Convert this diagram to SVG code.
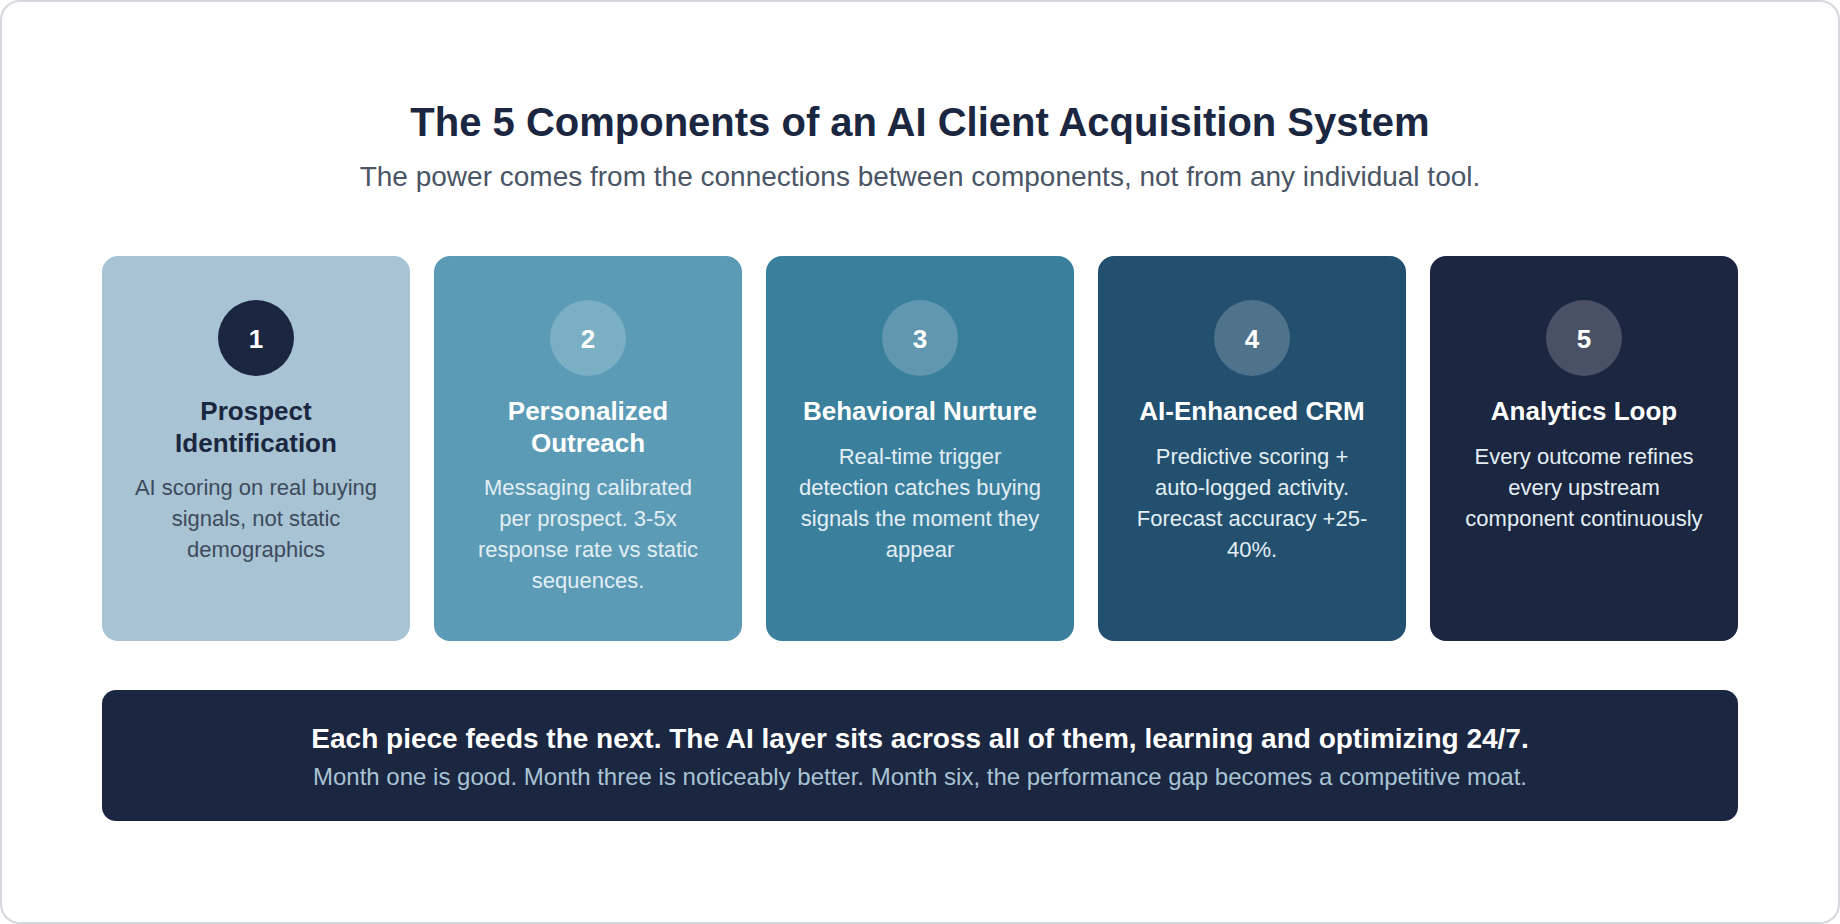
<svg xmlns="http://www.w3.org/2000/svg" width="1840" height="924" viewBox="0 0 1840 924">
<style>
text{font-family:"Liberation Sans",Arial,sans-serif;text-anchor:middle}
.t{font-size:40px;font-weight:bold;fill:#1b2640}
.st{font-size:28px;fill:#4a5566}
.num{font-size:26px;font-weight:bold;fill:#fff}
.ct{font-size:26px;font-weight:bold;fill:#fff}
.cd{font-size:22px;fill:#e3eef4}
.dk .ct{fill:#1b2640}
.dk .cd{fill:#3d4a5c}
.b1{font-size:28px;font-weight:bold;fill:#fff}
.b2{font-size:24px;fill:#a8c4d4}
.c{fill:#fff;fill-opacity:.2}
</style>
<rect x="1" y="1" width="1838" height="922" rx="19" fill="#fff" stroke="#d5d8de" stroke-width="2"/>
<text class="t" x="920" y="136">The 5 Components of an AI Client Acquisition System</text>
<text class="st" x="920" y="186">The power comes from the connections between components, not from any individual tool.</text>
<g id="node1" class="dk">
<rect x="102" y="256" width="308" height="385" rx="16" fill="#a8c4d4"/>
<circle cx="256" cy="338" r="38" fill="#1b2640"/>
<text class="num" x="256" y="348">1</text>
<text class="ct" x="256" y="420">Prospect</text>
<text class="ct" x="256" y="452">Identification</text>
<text class="cd" x="256" y="495">AI scoring on real buying</text>
<text class="cd" x="256" y="526">signals, not static</text>
<text class="cd" x="256" y="557">demographics</text>
</g>
<g id="node2">
<rect x="434" y="256" width="308" height="385" rx="16" fill="#5b9bb5"/>
<circle class="c" cx="588" cy="338" r="38"/>
<text class="num" x="588" y="348">2</text>
<text class="ct" x="588" y="420">Personalized</text>
<text class="ct" x="588" y="452">Outreach</text>
<text class="cd" x="588" y="495">Messaging calibrated</text>
<text class="cd" x="588" y="526">per prospect. 3-5x</text>
<text class="cd" x="588" y="557">response rate vs static</text>
<text class="cd" x="588" y="588">sequences.</text>
</g>
<g id="node3">
<rect x="766" y="256" width="308" height="385" rx="16" fill="#3a7f9c"/>
<circle class="c" cx="920" cy="338" r="38"/>
<text class="num" x="920" y="348">3</text>
<text class="ct" x="920" y="420">Behavioral Nurture</text>
<text class="cd" x="920" y="464">Real-time trigger</text>
<text class="cd" x="920" y="495">detection catches buying</text>
<text class="cd" x="920" y="526">signals the moment they</text>
<text class="cd" x="920" y="557">appear</text>
</g>
<g id="node4">
<rect x="1098" y="256" width="308" height="385" rx="16" fill="#22506e"/>
<circle class="c" cx="1252" cy="338" r="38"/>
<text class="num" x="1252" y="348">4</text>
<text class="ct" x="1252" y="420">AI-Enhanced CRM</text>
<text class="cd" x="1252" y="464">Predictive scoring +</text>
<text class="cd" x="1252" y="495">auto-logged activity.</text>
<text class="cd" x="1252" y="526">Forecast accuracy +25-</text>
<text class="cd" x="1252" y="557">40%.</text>
</g>
<g id="node5">
<rect x="1430" y="256" width="308" height="385" rx="16" fill="#1b2640"/>
<circle class="c" cx="1584" cy="338" r="38"/>
<text class="num" x="1584" y="348">5</text>
<text class="ct" x="1584" y="420">Analytics Loop</text>
<text class="cd" x="1584" y="464">Every outcome refines</text>
<text class="cd" x="1584" y="495">every upstream</text>
<text class="cd" x="1584" y="526">component continuously</text>
</g>
<g id="connectors"></g>
<g id="banner">
<rect x="102" y="690" width="1636" height="131" rx="14" fill="#1b2640"/>
<text class="b1" x="920" y="748">Each piece feeds the next. The AI layer sits across all of them, learning and optimizing 24/7.</text>
<text class="b2" x="920" y="785">Month one is good. Month three is noticeably better. Month six, the performance gap becomes a competitive moat.</text>
</g>
</svg>
